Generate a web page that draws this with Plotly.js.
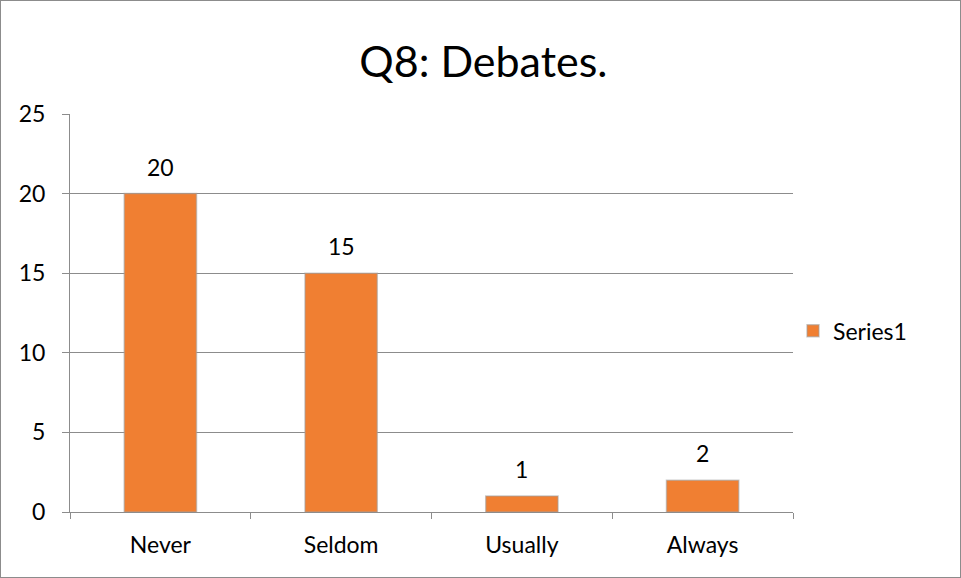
<!DOCTYPE html>
<html>
<head>
<meta charset="utf-8">
<script src="https://cdn.plot.ly/plotly-3.0.1.min.js"></script>
<style>
  html, body { margin: 0; padding: 0; background: #fff; }
  #chart { width: 961px; height: 578px; box-sizing: border-box; border: 1px solid #8c8c8c; }
</style>
</head>
<body>
<div id="chart"></div>
<script>
const categories = ["Never", "Seldom", "Usually", "Always"];
const values = [20, 15, 1, 2];
const seriesName = "Series1";
const titleText = "Q8: Debates.";
const yTicks = [0, 5, 10, 15, 20, 25];

const FONT = "Lato, 'Open Sans', 'DejaVu Sans', sans-serif";

const trace = {
  type: "bar",
  x: categories,
  y: values,
  name: seriesName,
  width: 0.4,
  marker: { color: "#F07F32", line: { color: "rgba(160,160,160,0.55)", width: 1.5 } },
  showlegend: true,
  hoverinfo: "x+y"
};

const annotations = categories.map((c, i) => ({
  x: c, y: values[i], xref: "x", yref: "y",
  text: String(values[i]), showarrow: false,
  yanchor: "bottom", yshift: 11,
  font: { family: FONT, size: 23, color: "#000" }
}));

const layout = {
  width: 959, height: 576,
  margin: { l: 69, r: 167, t: 113, b: 65 },
  paper_bgcolor: "#fff", plot_bgcolor: "#fff",
  title: { text: titleText, x: 0.503, xref: "container", xanchor: "center", y: 0.895, yanchor: "middle",
           font: { family: FONT, size: 43, color: "#000" } },
  font: { family: FONT, size: 23, color: "#000" },
  bargap: 0.6,
  xaxis: {
    type: "category", tickson: "boundaries", ticks: "outside", ticklen: 6,
    tickcolor: "#8c8c8c", showline: true, linecolor: "#8c8c8c", linewidth: 1,
    showgrid: false, tickfont: { family: FONT, size: 23, color: "#000" },
    ticklabelstandoff: 12, fixedrange: true
  },
  yaxis: {
    range: [0, 25], tickvals: yTicks, ticktext: yTicks.map(String),
    ticks: "outside", ticklen: 7, tickcolor: "#8c8c8c",
    showline: true, linecolor: "#8c8c8c", linewidth: 1,
    showgrid: true, gridcolor: "#8c8c8c", gridwidth: 1, zeroline: false,
    tickfont: { family: FONT, size: 23, color: "#000" },
    ticklabelstandoff: 12, fixedrange: true
  },
  legend: {
    x: 1.0, xanchor: "left", y: 0.455, yanchor: "middle",
    font: { family: FONT, size: 23, color: "#000" },
    itemwidth: 30, bgcolor: "rgba(0,0,0,0)"
  },
  annotations: annotations
};

Plotly.newPlot("chart", [trace], layout, { displayModeBar: false, staticPlot: true });
</script>
</body>
</html>
